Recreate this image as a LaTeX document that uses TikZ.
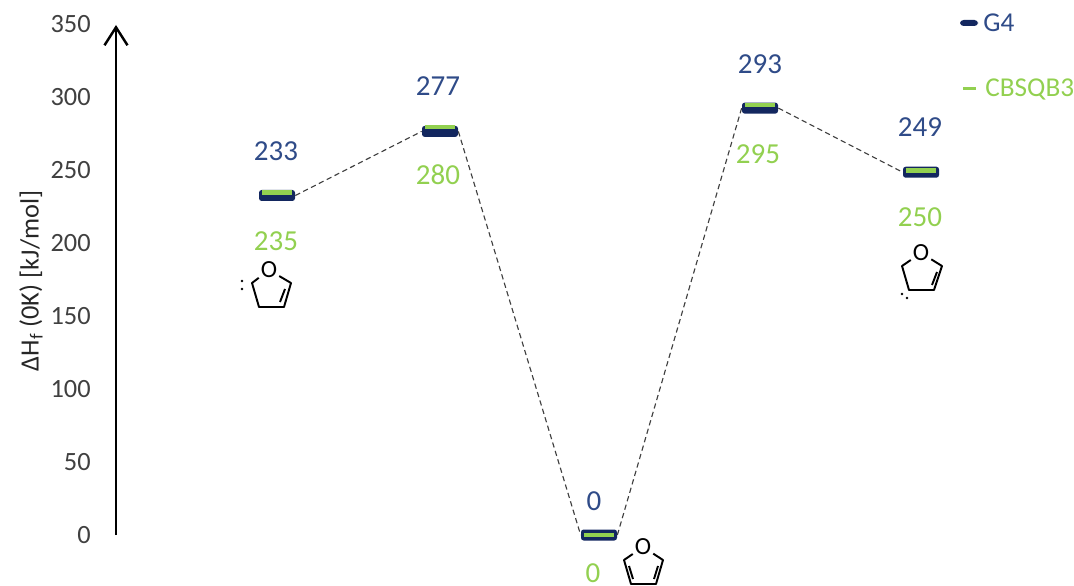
\documentclass[tikz,border=0pt]{standalone}
\usepackage{fontspec}
\setmainfont{Carlito}
\usepackage{xcolor}
\usepackage{tikz}
\usetikzlibrary{arrows.meta,calc}

\definecolor{gfour}{HTML}{13275F}
\definecolor{gfourtxt}{HTML}{2F4B88}
\definecolor{cbsgreen}{HTML}{92D050}
\definecolor{axisgray}{HTML}{404040}

\begin{document}
\begin{tikzpicture}[x=0.02cm, y=0.02cm,
    gbar/.style={rectangle, fill=gfour, rounded corners=1.5pt,
                 minimum width=0.72cm, minimum height=0.22cm, inner sep=0pt},
    cbar/.style={rectangle, fill=cbsgreen, minimum width=0.6cm,
                 minimum height=0.09cm, inner sep=0pt},
    gval/.style={font=\fontsize{16.5}{19}\selectfont, text=gfourtxt},
    cval/.style={font=\fontsize{16.5}{19}\selectfont, text=cbsgreen},
    ticklbl/.style={font=\fontsize{15}{18}\selectfont, text=axisgray, anchor=east, inner sep=0pt},
    link/.style={draw=axisgray, line width=0.65pt, dash pattern=on 3pt off 2pt},
    bond/.style={line width=1.1pt, line join=round},
    atom/.style={font=\fontsize{14}{16}\selectfont, inner sep=1pt},
    lgd/.style={font=\fontsize{15.5}{18}\selectfont, anchor=west, inner sep=0pt},
  ]

  \useasboundingbox (0,0) rectangle (1074,585);

  % Axis
  \coordinate (ybot) at (116,50);
  \coordinate (ytop) at (116,560);
  \draw[line width=1.4pt, -{Straight Barb[length=3.6mm, width=4.6mm]}] (ybot) -- (ytop);
  \node[ticklbl] (t0) at (91,50) {0};
  \node[ticklbl] (t50) at (91,123) {50};
  \node[ticklbl] (t100) at (91,196) {100};
  \node[ticklbl] (t150) at (91,269) {150};
  \node[ticklbl] (t200) at (91,342) {200};
  \node[ticklbl] (t250) at (91,415) {250};
  \node[ticklbl] (t300) at (91,488) {300};
  \node[ticklbl] (t350) at (91,561) {350};
  \node[rotate=90, font=\fontsize{15}{18}\selectfont, text=black!85] (ylbl) at (31,304)
    {ΔH\textsubscript{f} (0K) [kJ/mol]};

  % Levels (G4)
  \node[gbar] (g1) at (277,389.5) {};
  \node[gbar] (g2) at (440,453.6) {};
  \node[gbar] (g3) at (599,50) {};
  \node[gbar] (g4) at (760,476.9) {};
  \node[gbar] (g5) at (921,412.8) {};

  % Levels (CBSQB3)
  \node[cbar] (c1) at (277,392.4) {};
  \node[cbar] (c2) at (440,458) {};
  \node[cbar] (c3) at (599,50) {};
  \node[cbar] (c4) at (760,479.8) {};
  \node[cbar] (c5) at (921,414.3) {};

  % Connectors
  \draw[link] (g1.east) -- (g2.west);
  \draw[link] (g2.east) -- (g3.west);
  \draw[link] (g3.east) -- (g4.west);
  \draw[link] (g4.east) -- (g5.west);

  % Values
  \node[gval] (v1) at (276,434) {233};
  \node[gval] (v2) at (438,499) {277};
  \node[gval] (v3) at (594,84) {0};
  \node[gval] (v4) at (760,521) {293};
  \node[gval] (v5) at (920,458) {249};
  \node[cval] (w1) at (276,344) {235};
  \node[cval] (w2) at (438,410) {280};
  \node[cval] (w3) at (593,12) {0};
  \node[cval] (w4) at (758,431) {295};
  \node[cval] (w5) at (920,368) {250};

  % Legend
  \node[gbar, minimum width=0.36cm, minimum height=0.12cm, rounded corners=2pt] (lg) at (969,562) {};
  \node[lgd, text=gfourtxt] (lgt) at (983,562) {G4};
  \node[cbar, minimum width=0.26cm, minimum height=0.06cm] (lc) at (969.5,496) {};
  \node[lgd, text=cbsgreen] (lct) at (985,496) {CBSQB3};

  % Carbene (left)
  \begin{scope}[shift={(269,315)}]
    \node[atom] (o1) at (0,0) {O};
    \draw[bond] (o1) -- (-17,-13) -- (-10,-37) -- (15,-37) -- (22,-13) -- (o1);
    \draw[bond] (16,-19) -- (11,-32);
    \fill (-27,-11) circle (1.4);
    \fill (-27,-19) circle (1.4);
  \end{scope}

  % Furan (bottom)
  \begin{scope}[shift={(643,38)}]
    \node[atom] (o2) at (0,0) {O};
    \draw[bond] (o2) -- (-19,-13) -- (-12,-37) -- (13,-37) -- (20,-13) -- (o2);
    \draw[bond] (-14,-19) -- (-10,-32);
    \draw[bond] (15,-19) -- (11,-32);
  \end{scope}

  % Carbene (right)
  \begin{scope}[shift={(921,332)}]
    \node[atom] (o3) at (0,0) {O};
    \draw[bond] (o3) -- (-19,-13) -- (-12,-37) -- (13,-37) -- (21,-13) -- (o3);
    \draw[bond] (16,-19) -- (11,-32);
    \fill (-19,-41) circle (1.4);
    \fill (-14,-45) circle (1.4);
  \end{scope}

\end{tikzpicture}
\end{document}
